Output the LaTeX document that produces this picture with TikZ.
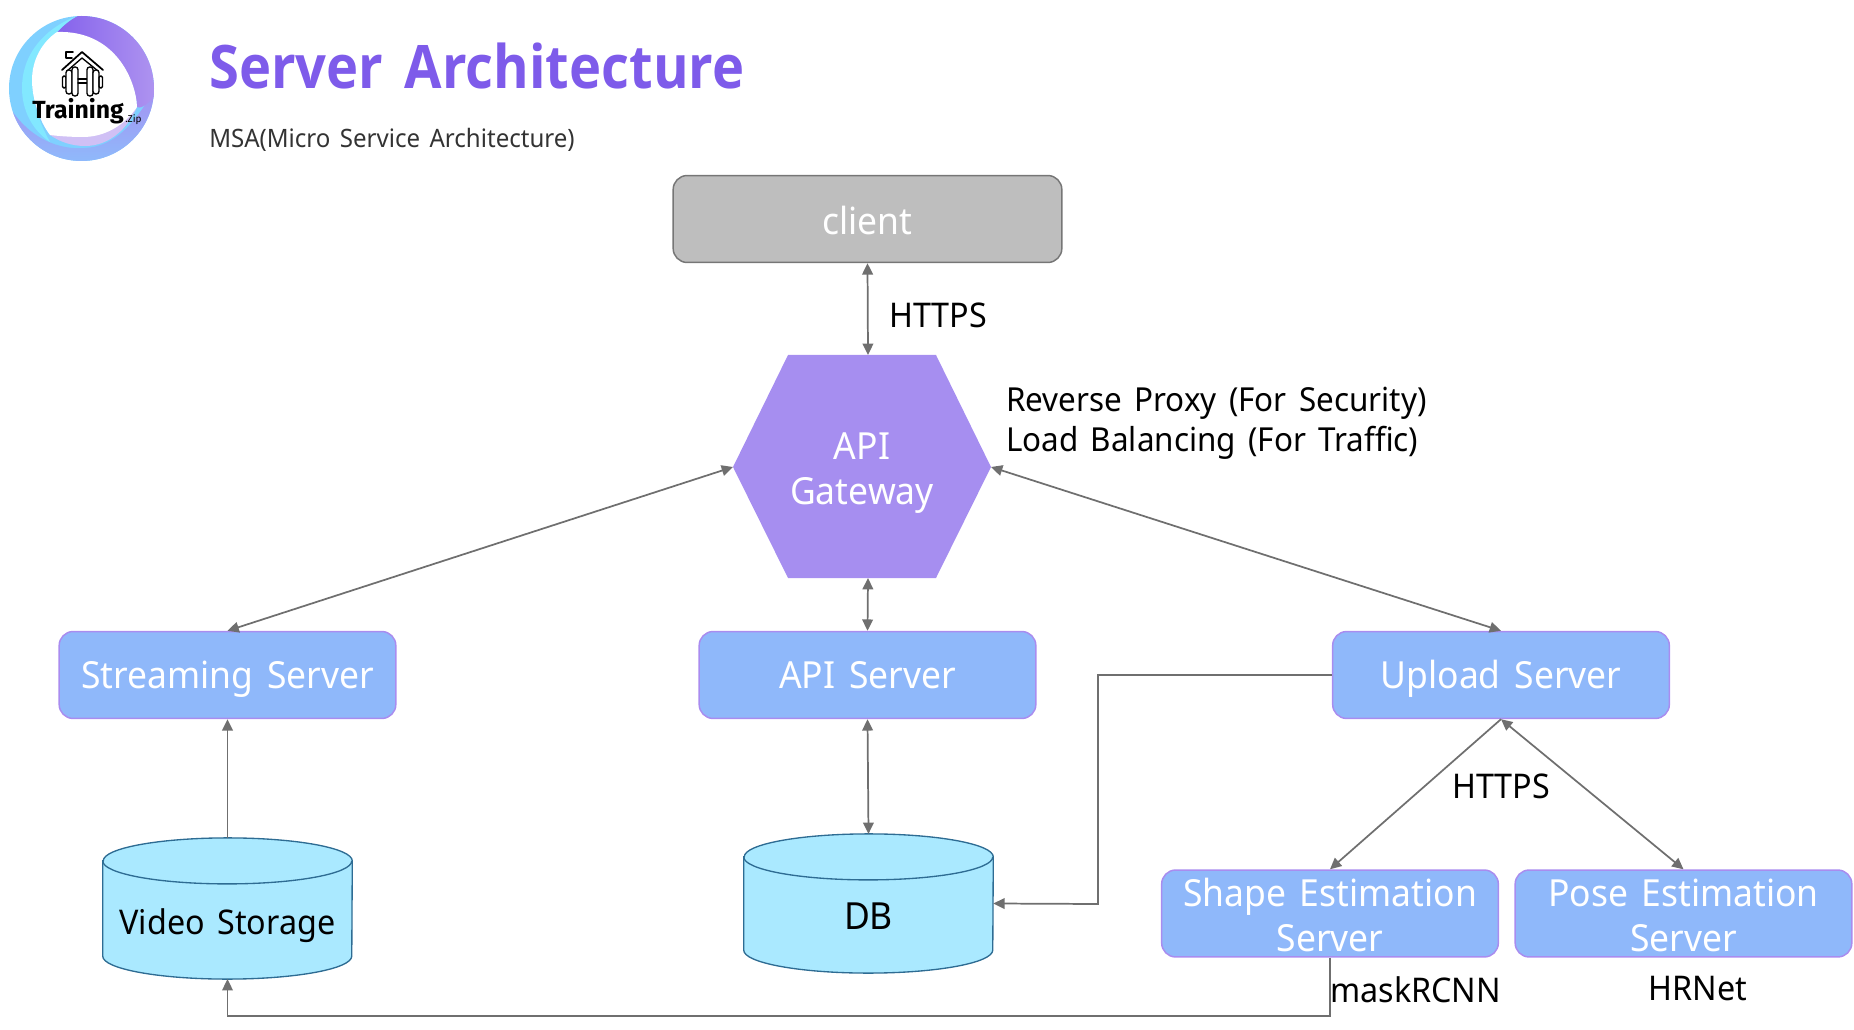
\documentclass[tikz,border=0pt]{standalone}
\usepackage{fontspec}
\usetikzlibrary{arrows.meta,shapes.misc,calc}
\setmainfont{Noto Sans}
\newfontfamily\lab[WordSpace=1.5,FakeStretch=0.95]{Noto Sans}
\newfontfamily\titlef[WordSpace=1.5,FakeStretch=0.905]{Open Sans}
\newfontfamily\logof{Fira Sans}
\definecolor{titlepurple}{HTML}{7E5BEA}
\definecolor{hexfill}{HTML}{A68EF0}
\definecolor{boxfill}{HTML}{8FB8FA}
\definecolor{boxedge}{HTML}{A98CEF}
\definecolor{greyfill}{HTML}{BEBEBE}
\definecolor{greyedge}{HTML}{767676}
\definecolor{cylfill}{HTML}{AAE9FF}
\definecolor{cyledge}{HTML}{2E6C93}
\definecolor{linkcol}{HTML}{6F6F6F}
\definecolor{logoblue}{HTML}{7FD0FF}
\definecolor{logocyan}{HTML}{82E8FF}
\definecolor{logolav}{HTML}{D0C0F5}
\definecolor{logobot}{HTML}{8CBEFC}
\definecolor{logomid}{HTML}{A88CF0}
\definecolor{logodark}{HTML}{8562EC}
\definecolor{logolight}{HTML}{B096F0}
\newcommand{\drumshape}[1]{%
  \draw[drum] ($(#1.north west)+(0,23)$) -- ($(#1.south west)+(0,-23)$)
    arc[start angle=180,end angle=360,x radius=93.4pt,y radius=17.25pt]
    -- ($(#1.north east)+(0,23)$)
    arc[start angle=0,end angle=180,x radius=93.4pt,y radius=17.25pt] -- cycle;
  \draw[drum,fill=none] ($(#1.north west)+(0,23)$)
    arc[start angle=180,end angle=360,x radius=93.4pt,y radius=17.25pt];
}
\tikzset{
  x=0.75pt,y=-0.75pt,
  servicebox/.style={rounded corners=10.5pt,draw=boxedge,fill=boxfill,line width=1.1pt,text=white,font=\lab\fontsize{28}{33.8}\selectfont,align=center,inner sep=0pt,minimum height=65.2pt,minimum width=252.5pt},
  onerow/.style={text height=19.5pt,text depth=0pt},
  clientbox/.style={servicebox,text height=23pt,text depth=0pt,draw=greyedge,fill=greyfill,minimum width=291.5pt},
  drumframe/.style={inner sep=0pt,minimum width=186.8pt},
  drum/.style={draw=cyledge,fill=cylfill,line width=1pt},
  labeltext/.style={text=black,inner sep=0pt,font=\lab\fontsize{25.5}{30}\selectfont,align=left},
  link/.style={draw=linkcol,line width=1.3pt},
  both/.style={link,{Triangle[length=8.5pt,width=8pt]}-{Triangle[length=8.5pt,width=8pt]}},
  tohead/.style={link,-{Triangle[length=8.5pt,width=8pt]}},
}
\begin{document}
\begin{tikzpicture}
\useasboundingbox (0,0) rectangle (1854,1030);
% logo
\begin{scope}
\clip (81.5,88.5) circle [radius=72.5];
\fill[logoblue] (0,0) rectangle (170,170);
\shade[bottom color=logobot,top color=logomid] (8,105) .. controls (30,140) and (60,150) .. (85,148) .. controls (115,146) and (135,125) .. (160,80) -- (170,170) -- (0,170) -- cycle;
\shade[shading angle=-35,left color=logodark,right color=logolight] (57,32) .. controls (65,24) and (72,18) .. (82,14) -- (160,14) -- (160,92) .. controls (150,100) and (143,110) .. (137,107) .. controls (136,80) and (115,38) .. (57,32) -- cycle;
\fill[logocyan] (80,15) .. controls (50,25) and (22,50) .. (22,88) .. controls (22,110) and (32,130) .. (50,142) .. controls (38,120) and (32,100) .. (32,80) .. controls (32,60) and (42,42) .. (57,32) .. controls (65,24) and (72,18) .. (80,15) -- cycle;
\fill[logolav] (50,135) .. controls (60,142) and (72,146) .. (85,146) .. controls (110,146) and (128,128) .. (137,107) -- (113,120) -- (60,125) -- cycle;
\fill[white] (57,32) .. controls (115,30) and (136,80) .. (137,107) .. controls (125,125) and (105,137) .. (83,137) .. controls (70,137) and (58,136) .. (50,135) .. controls (40,122) and (32,100) .. (32,80) .. controls (32,60) and (42,42) .. (57,32) -- cycle;
\end{scope}
\begin{scope}[black,line width=1pt,line cap=round,line join=round]
\draw[line width=1.3pt] (62,70) -- (82,52) -- (103,70);
\draw (67,71) -- (82,58) -- (98,71);
\draw[line width=1.2pt] (72,58) -- (66,58) -- (66,52) -- (73,52);
\draw[rounded corners=1pt] (62.5,76) rectangle (66,88);
\draw[rounded corners=2pt,fill=white] (66,70) rectangle (72,94);
\draw[rounded corners=2pt,fill=white] (72,67) rectangle (78,96);
\draw (78,79) -- (87,79) (78,83) -- (87,83);
\draw[rounded corners=2pt,fill=white] (87,67) rectangle (93,96);
\draw[rounded corners=2pt,fill=white] (93,70) rectangle (99,94);
\draw[rounded corners=1pt] (99,76) rectangle (102.5,88);
\end{scope}
\node[anchor=base west,inner sep=0pt,font=\logof\bfseries\fontsize{18.6}{20}\selectfont] (logoname) at (32,119) {Training};
\node[anchor=base west,inner sep=0pt,font=\logof\fontsize{7.5}{8}\selectfont] (logozip) at (125,123) {.Zip};
% title
\node[anchor=base west,inner sep=0pt,text=titlepurple,font=\titlef\bfseries\fontsize{45}{50}\selectfont] (title) at (209,89) {Server Architecture};
\node[anchor=base west,inner sep=0pt,text=black!80,font=\lab\fontsize{19}{23}\selectfont] (subtitle) at (209,148) {MSA(Micro Service Architecture)};
% nodes
\node[clientbox] (client) at (867.5,219) {client};
\coordinate (hexL) at (733,467);
\coordinate (hexR) at (991,467);
\coordinate (hexT) at (868,355);
\coordinate (hexB) at (868,578);
\fill[hexfill] (hexL) -- (788,355) -- (936,355) -- (hexR) -- (936,578) -- (788,578) -- cycle;
\node[text=white,align=center,inner sep=0pt,font=\lab\fontsize{28}{33.8}\selectfont] (gateway) at (862,473) {API\\Gateway};
\node[servicebox,onerow] (stream) at (227.5,675) {Streaming Server};
\node[servicebox,onerow] (apisrv) at (867.5,675) {API Server};
\node[servicebox,onerow] (upload) at (1501,675) {Upload Server};
\node[servicebox] (shape) at (1330,913.5) {\rule{0pt}{24pt}Shape Estimation\\Server};
\node[servicebox] (pose) at (1683.5,913.5) {\rule{0pt}{24pt}Pose Estimation\\Server};
\node[drumframe,minimum height=105.5pt] (video) at (227.5,908.5) {};
\node[drumframe,minimum height=104pt] (db) at (868.5,903.5) {};
\drumshape{video}
\drumshape{db}
\node[labeltext] (videotext) at (227.5,926) {Video Storage};
\node[labeltext,font=\lab\fontsize{28}{32}\selectfont] (dbtext) at (868.5,916) {DB};
% labels
\node[labeltext,anchor=west] (https1) at (889,315) {HTTPS};
\node[labeltext,anchor=west,font=\lab\fontsize{24.8}{30}\selectfont] (notes) at (1006,423) {Reverse Proxy (For Security)\\Load Balancing (For Traffic)};
\node[labeltext] (https2) at (1501,786) {HTTPS};
\node[labeltext,anchor=west] (mask) at (1330,990) {maskRCNN};
\node[labeltext] (hrnet) at (1698,989) {HRNet};
% connectors
\coordinate (bend1) at (1098,675);
\coordinate (bend2) at (1098,904);
\coordinate (bend3) at (1330,1016);
\coordinate (bend4) at (227.5,1016);
\draw[both] (client.south) -- (hexT);
\draw[both] (hexL) -- (stream.north);
\draw[both] (hexR) -- (upload.north);
\draw[both] (hexB) -- (apisrv.north);
\draw[both] (apisrv.south) -- (db.north);
\draw[tohead] (video.north) -- (stream.south);
\draw[tohead] (upload.west) -- (bend1) -- (bend2) -- (db.east);
\draw[tohead] (upload.south) -- (shape.north);
\draw[both] (upload.south) -- (pose.north);
\draw[tohead] (shape.south) -- (bend3) -- (bend4) -- (video.south);
\end{tikzpicture}
\end{document}
